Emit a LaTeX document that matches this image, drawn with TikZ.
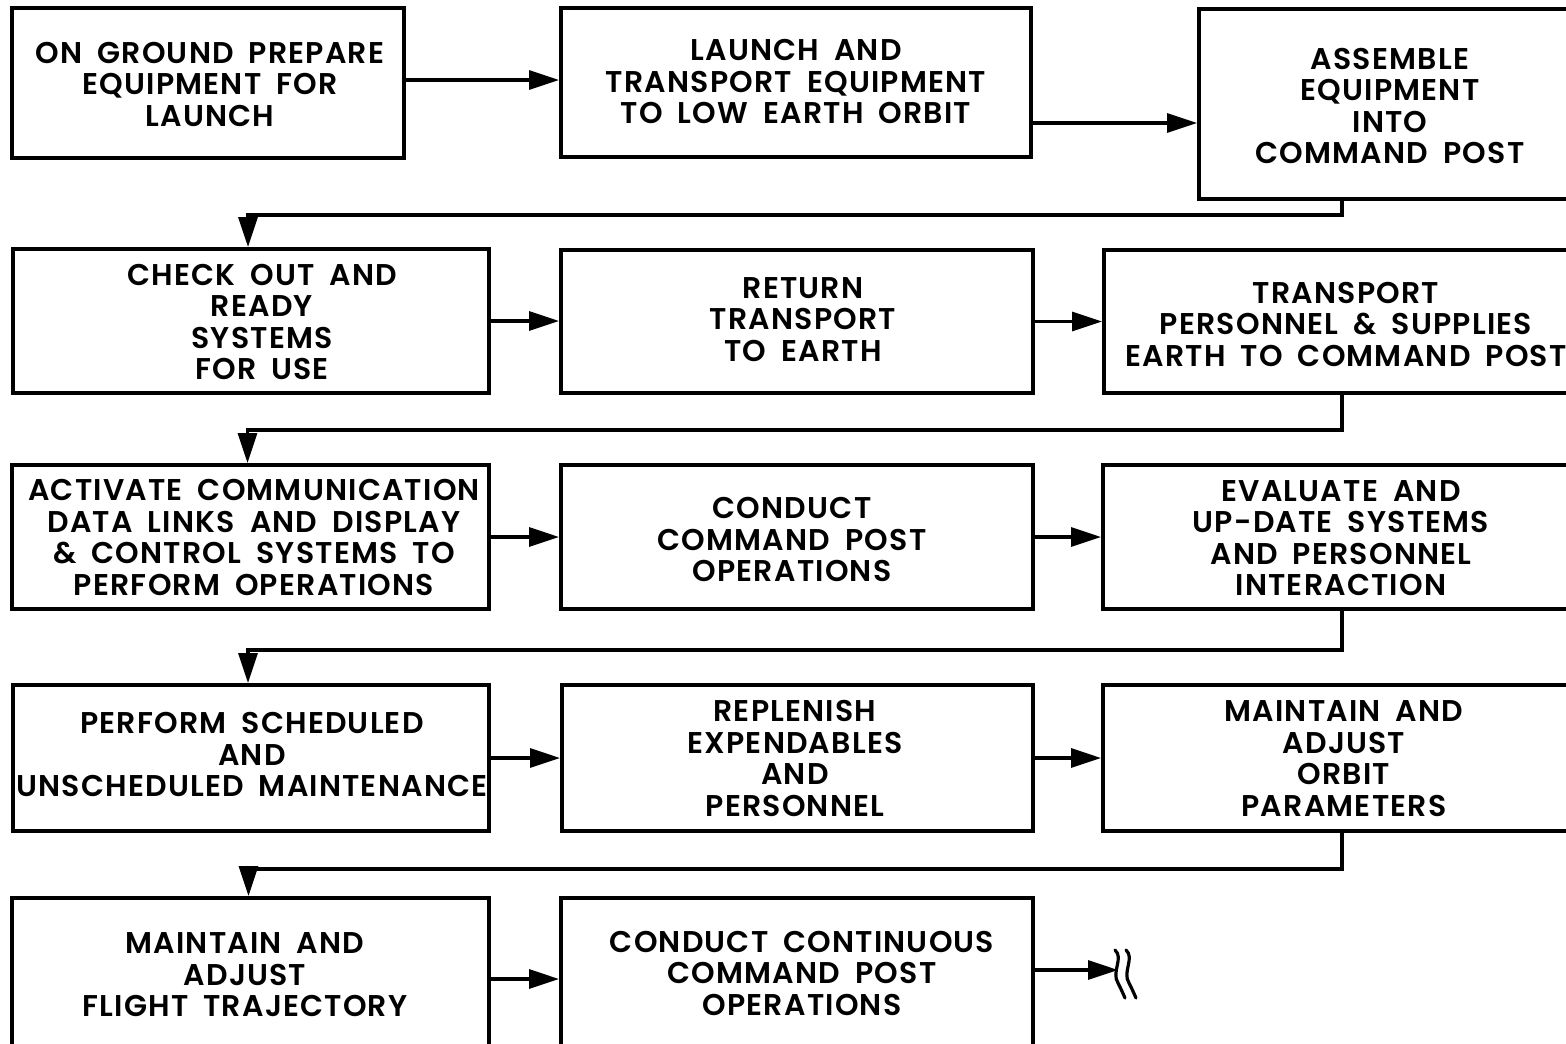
\documentclass[tikz,border=0pt]{standalone}
\usepackage{fontspec}
\setmainfont{Poppins SemiBold}[LetterSpace=4, WordSpace=1.8]
\usetikzlibrary{arrows.meta}
\begin{document}
\begin{tikzpicture}[x=1pt,y=-1pt,
  box/.style={draw, line width=4pt, inner sep=0pt},
  txt/.style={align=center, inner sep=0pt, font=\fontsize{30}{31.5}\selectfont},
  flow/.style={line width=3.2pt, -{Triangle[length=30pt,width=19pt]}},
  wave/.style={line width=3.2pt, line cap=round}]
\useasboundingbox (0,0) rectangle (1566,1044);
\clip (0,0) rectangle (1566,1044);

% boxes (centre, width, height)
\node[box, minimum width=392pt, minimum height=150pt] (A) at (208,83) {};
\node[box, minimum width=470pt, minimum height=149pt] (B) at (796,82.5) {};
\node[box, minimum width=382pt, minimum height=190pt] (C) at (1390,104) {};
\node[box, minimum width=476pt, minimum height=144pt] (D) at (251,321) {};
\node[box, minimum width=472pt, minimum height=143pt] (E) at (797,321.5) {};
\node[box, minimum width=484pt, minimum height=143pt] (F) at (1346,321.5) {};
\node[box, minimum width=477pt, minimum height=144pt] (G) at (250.5,537) {};
\node[box, minimum width=472pt, minimum height=144pt] (H) at (797,537) {};
\node[box, minimum width=476pt, minimum height=144pt] (I) at (1341,537) {};
\node[box, minimum width=476pt, minimum height=146pt] (J) at (251,758) {};
\node[box, minimum width=471pt, minimum height=146pt] (K) at (797.5,758) {};
\node[box, minimum width=482pt, minimum height=146pt] (L) at (1344,758) {};
\node[box, minimum width=477pt, minimum height=154pt] (M) at (250.5,975) {};
\node[box, minimum width=472pt, minimum height=150pt] (N) at (797,973) {};

% box texts
\node[txt] (tA) at (210,84) {ON GROUND PREPARE\\EQUIPMENT FOR\\LAUNCH};
\node[txt] (tB) at (796,81.5) {LAUNCH AND\\TRANSPORT EQUIPMENT\\TO LOW EARTH ORBIT};
\node[txt] (tC) at (1390,106) {ASSEMBLE\\EQUIPMENT\\INTO\\COMMAND POST};
\node[txt] (tD) at (262,322) {CHECK OUT AND\\READY\\SYSTEMS\\FOR USE};
\node[txt] (tE) at (803,319.5) {RETURN\\TRANSPORT\\TO EARTH};
\node[txt] (tF) at (1346,324) {TRANSPORT\\PERSONNEL \& SUPPLIES\\EARTH TO COMMAND POST};
\node[txt] (tG) at (254,537.5) {ACTIVATE COMMUNICATION\\DATA LINKS AND DISPLAY\\\& CONTROL SYSTEMS TO\\PERFORM OPERATIONS};
\node[txt] (tH) at (792,539.5) {CONDUCT\\COMMAND POST\\OPERATIONS};
\node[txt] (tI) at (1341,538) {EVALUATE AND\\UP-DATE SYSTEMS\\AND PERSONNEL\\INTERACTION};
\node[txt] (tJ) at (252,754.5) {PERFORM SCHEDULED\\AND\\UNSCHEDULED MAINTENANCE};
\node[txt] (tK) at (795,758.5) {REPLENISH\\EXPENDABLES\\AND\\PERSONNEL};
\node[txt] (tL) at (1344,758.5) {MAINTAIN AND\\ADJUST\\ORBIT\\PARAMETERS};
\node[txt] (tM) at (245,975) {MAINTAIN AND\\ADJUST\\FLIGHT TRAJECTORY};
\node[txt] (tN) at (802,973) {CONDUCT CONTINUOUS\\COMMAND POST\\OPERATIONS};

% x position of the return lines
\coordinate (turn) at (1342,0);
\coordinate (brk) at (1118,970);

% horizontal flow
\draw[flow] ([yshift=3pt]A.east) -- ([yshift=3pt]A.east -| B.west);
\draw[flow] ([yshift=-19pt]C.west -| B.east) -- ([yshift=-19pt]C.west);
\draw[flow] (D.east) -- (D.east -| E.west);
\draw[flow] (E.east) -- (E.east -| F.west);
\draw[flow] (G.east) -- (G.east -| H.west);
\draw[flow] (H.east) -- (H.east -| I.west);
\draw[flow] (J.east) -- (J.east -| K.west);
\draw[flow] (K.east) -- (K.east -| L.west);
\draw[flow] ([yshift=-4pt]M.east) -- ([yshift=-4pt]M.east -| N.west);
\draw[flow] (N.east |- brk) -- (brk);

% return lines to the next row
\draw[flow] (C.south -| turn) -- ++(0,14) -| ([xshift=-3pt]D.north);
\draw[flow] (F.south -| turn) -- ++(0,35) -| ([xshift=-3pt]G.north);
\draw[flow] (I.south -| turn) -- ++(0,39) -| ([xshift=-3pt]J.north);
\draw[flow] (L.south -| turn) -- ++(0,36) -| ([xshift=-2pt]M.north);

% break mark at the end of the chain
\draw[wave] (1115,950) .. controls (1124,958) and (1111,972) .. (1118,983) .. controls (1121,989) .. (1125,998);
\draw[wave] (1126,950) .. controls (1135,958) and (1122,972) .. (1129,983) .. controls (1132,989) .. (1136,998);
\end{tikzpicture}
\end{document}
